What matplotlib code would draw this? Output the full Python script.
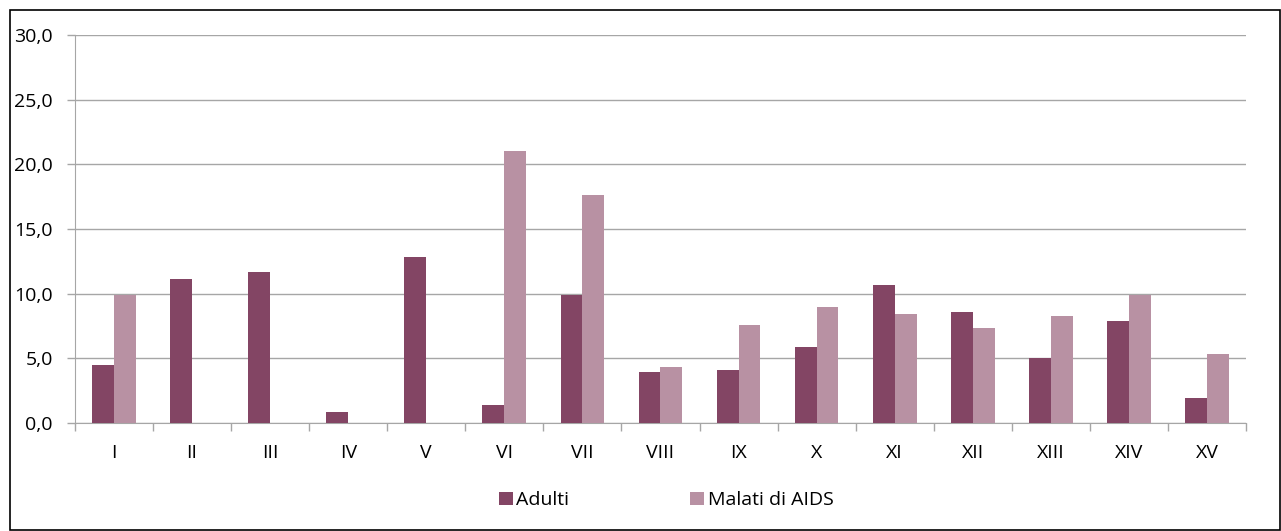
import numpy as np
import matplotlib.pyplot as plt
from matplotlib.patches import Rectangle
from matplotlib.ticker import FixedLocator, FuncFormatter

plt.rcParams['font.family'] = ['Open Sans', 'DejaVu Sans']

categories = ['I', 'II', 'III', 'IV', 'V', 'VI', 'VII', 'VIII', 'IX', 'X',
              'XI', 'XII', 'XIII', 'XIV', 'XV']
adulti = [4.5, 11.1, 11.7, 0.85, 12.8, 1.4, 9.9, 3.95, 4.1, 5.9,
          10.65, 8.6, 5.05, 7.9, 1.95]
malati = [9.9, 0, 0, 0, 0, 21.05, 17.65, 4.35, 7.6, 8.95,
          8.45, 7.35, 8.25, 9.9, 5.3]

grid_col = '#a6a6a6'
fs = 14

fig = plt.figure(figsize=(12.81, 5.31), dpi=100)
ax = fig.add_axes([0.0585, 0.2034, 0.9142, 0.7306])

x = np.arange(len(categories))
w = 0.28
ax.bar(x - w / 2, adulti, w, color='#834564', label='Adulti', zorder=3)
ax.bar(x + w / 2, malati, w, color='#b891a3', label='Malati di AIDS', zorder=3)

ax.set_xlim(-0.5, len(categories) - 0.5)
ax.set_ylim(0, 30)
ax.set_yticks(np.arange(0, 31, 5))
ax.yaxis.set_major_formatter(FuncFormatter(lambda v, p: f'{v:.1f}'.replace('.', ',')))
ax.yaxis.grid(True, color=grid_col, linewidth=1)
ax.set_axisbelow(True)

ax.set_xticks(x)
ax.set_xticklabels(categories)
ax.xaxis.set_minor_locator(FixedLocator(np.arange(-0.5, len(categories), 1)))
ax.tick_params(axis='x', which='major', length=0, pad=15, labelsize=fs)
ax.tick_params(axis='x', which='minor', length=6, color=grid_col, width=1)
ax.tick_params(axis='y', length=6, color=grid_col, width=1, labelsize=fs, pad=10)

for s in ['top', 'right']:
    ax.spines[s].set_visible(False)
ax.spines['left'].set_color(grid_col)
ax.spines['bottom'].set_color(grid_col)

leg = fig.legend(loc='center', bbox_to_anchor=(0.52, 0.058), ncol=2, frameon=False,
                 fontsize=fs, handlelength=0.7, handleheight=0.7, handletextpad=0.2,
                 columnspacing=6.2)

fig.patches.append(Rectangle((0.008, 0.001), 0.991, 0.98, transform=fig.transFigure,
                             fill=False, edgecolor='black', linewidth=1.2))

fig.savefig('out.png', dpi=100)
